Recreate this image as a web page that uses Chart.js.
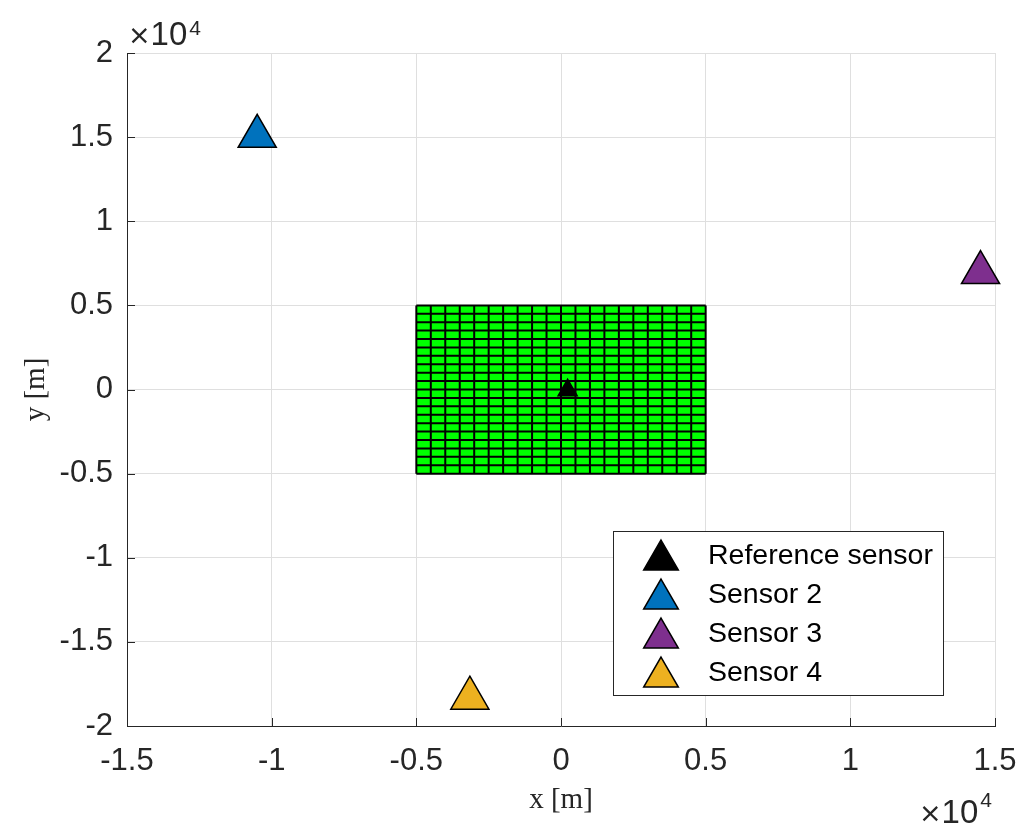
<!DOCTYPE html>
<html>
<head>
<meta charset="utf-8">
<script src="https://cdn.jsdelivr.net/npm/chart.js@4/dist/chart.umd.min.js"></script>
<style>
  html, body { margin: 0; padding: 0; background: #fff; }
  #wrap { width: 1019px; height: 827px; position: relative; }
</style>
</head>
<body>
<div id="wrap"><canvas id="chart"></canvas></div>
<script>
// dados dos sensores
const sensorNames = ['Reference sensor', 'Sensor 2', 'Sensor 3', 'Sensor 4'];
const sensorX = [230, -10500, 14500, -3150];
const sensorY = [-50, 15050, 6950, -18350];
const sensorColors = ['#000000', '#0072BD', '#7E2F8E', '#EDB120'];
const sensorSizes = [11, 22, 22, 22];

// bordas das células da grade verde
const cellEdges = [-5000, -4500, -4000, -3500, -3000, -2500, -2000, -1500, -1000, -500, 0,
                   500, 1000, 1500, 2000, 2500, 3000, 3500, 4000, 4500, 5000];

// ticks dos eixos
const xTicks = [-15000, -10000, -5000, 0, 5000, 10000, 15000];
const xTickLabels = ['-1.5', '-1', '-0.5', '0', '0.5', '1', '1.5'];
const yTicks = [-20000, -15000, -10000, -5000, 0, 5000, 10000, 15000, 20000];
const yTickLabels = ['-2', '-1.5', '-1', '-0.5', '0', '0.5', '1', '1.5', '2'];

const axisColor = '#262626';
const sansFamily = '"Liberation Sans", Arial, sans-serif';
const tickFont = { family: sansFamily, size: 31 };

// linhas da grade (segmentos separados por null)
const gridLinePoints = [];
cellEdges.forEach(e => {
    gridLinePoints.push({ x: e, y: cellEdges[0] });
    gridLinePoints.push({ x: e, y: cellEdges[cellEdges.length - 1] });
    gridLinePoints.push({ x: e, y: null });
});
cellEdges.forEach(e => {
    gridLinePoints.push({ x: cellEdges[0], y: e });
    gridLinePoints.push({ x: cellEdges[cellEdges.length - 1], y: e });
    gridLinePoints.push({ x: null, y: null });
});

const sensorDatasets = sensorNames.map((name, i) => ({
    label: name,
    data: [{ x: sensorX[i], y: sensorY[i] }],
    pointStyle: 'triangle',
    pointRadius: sensorSizes[i],
    pointBackgroundColor: sensorColors[i],
    pointBorderColor: '#000',
    pointBorderWidth: 1.5,
    showLine: false,
    clip: false,
    order: 0
}));

function drawTriangle(ctx, cx, cy, r, color) {
    ctx.fillStyle = color;
    ctx.strokeStyle = '#000';
    ctx.lineWidth = 1.5;
    ctx.beginPath();
    for (let k = 0; k < 3; k++) {
        const a = k * 2 * Math.PI / 3;
        const px = cx + Math.sin(a) * r, py = cy - Math.cos(a) * r;
        if (k === 0) ctx.moveTo(px, py); else ctx.lineTo(px, py);
    }
    ctx.closePath();
    ctx.fill();
    ctx.stroke();
}

// ×10^4 no estilo do MATLAB
function drawMultiplier(ctx, x, baseline, supBaseline) {
    ctx.font = '27px "DejaVu Sans", sans-serif';
    ctx.fillText('\u00d7', x, baseline - 1);
    let w = ctx.measureText('\u00d7').width;
    ctx.font = '33px ' + sansFamily;
    ctx.fillText('10', x + w, baseline);
    w += ctx.measureText('10').width;
    ctx.font = '21px ' + sansFamily;
    ctx.fillText('4', x + w + 2, supBaseline);
}

// plugin: legenda, ticks internos, rótulos e multiplicador
const extrasPlugin = {
    id: 'extras',
    afterDraw(chart) {
        const ctx = chart.ctx;
        const xs = chart.scales.x, ys = chart.scales.y;
        const area = chart.chartArea;
        ctx.save();

        // ticks para dentro
        ctx.strokeStyle = axisColor;
        ctx.lineWidth = 1;
        ctx.beginPath();
        xTicks.forEach(v => {
            const px = Math.round(xs.getPixelForValue(v)) + 0.5;
            ctx.moveTo(px, area.bottom);
            ctx.lineTo(px, area.bottom - 8);
        });
        yTicks.forEach(v => {
            const py = Math.round(ys.getPixelForValue(v)) + 0.5;
            ctx.moveTo(area.left, py);
            ctx.lineTo(area.left + 8, py);
        });
        ctx.stroke();

        // títulos dos eixos
        ctx.fillStyle = axisColor;
        ctx.font = '29px "Liberation Serif", "Times New Roman", serif';
        ctx.textAlign = 'center';
        ctx.textBaseline = 'middle';
        ctx.fillText('x [m]', (area.left + area.right) / 2, 800);
        ctx.save();
        ctx.translate(36, (area.top + area.bottom) / 2);
        ctx.rotate(-Math.PI / 2);
        ctx.fillText('y [m]', 0, 0);
        ctx.restore();

        // multiplicador ×10^4
        ctx.textAlign = 'left';
        ctx.textBaseline = 'alphabetic';
        drawMultiplier(ctx, 128, 45, 35);
        drawMultiplier(ctx, 919, 823, 807);

        // legenda
        const lx = 613, ly = 531, lw = 330, lh = 164;
        ctx.fillStyle = '#fff';
        ctx.fillRect(lx, ly, lw, lh);
        ctx.strokeStyle = axisColor;
        ctx.lineWidth = 1;
        ctx.strokeRect(lx + 0.5, ly + 0.5, lw, lh);
        sensorNames.forEach((name, i) => {
            const cy = 556 + i * 39;
            drawTriangle(ctx, 661, cy + 4, 20, sensorColors[i]);
            ctx.fillStyle = '#000';
            ctx.font = '28.5px ' + sansFamily;
            ctx.textAlign = 'left';
            ctx.textBaseline = 'middle';
            ctx.fillText(name, 708, cy);
        });
        ctx.restore();
    }
};

new Chart(document.getElementById('chart'), {
    type: 'scatter',
    data: {
        datasets: [
            ...sensorDatasets,
            {
                label: 'grid',
                data: gridLinePoints,
                showLine: true,
                spanGaps: false,
                borderColor: '#000',
                borderWidth: 2,
                pointRadius: 0,
                fill: false,
                order: 2
            },
            {
                label: 'area',
                data: [{ x: cellEdges[0], y: cellEdges[cellEdges.length - 1] },
                       { x: cellEdges[cellEdges.length - 1], y: cellEdges[cellEdges.length - 1] }],
                showLine: true,
                borderWidth: 0,
                pointRadius: 0,
                backgroundColor: '#00ff00',
                fill: { value: cellEdges[0] },
                order: 3
            }
        ]
    },
    options: {
        responsive: true,
        maintainAspectRatio: false,
        animation: false,
        events: [],
        layout: { padding: { top: 53, right: 24, left: 0, bottom: 0 } },
        plugins: {
            legend: { display: false },
            tooltip: { enabled: false }
        },
        scales: {
            x: {
                type: 'linear',
                min: xTicks[0],
                max: xTicks[xTicks.length - 1],
                afterBuildTicks: s => { s.ticks = xTicks.map(v => ({ value: v })); },
                afterFit: s => { s.height = 101; s.paddingLeft = 0; s.paddingRight = 0; },
                ticks: {
                    font: tickFont,
                    color: axisColor,
                    padding: 17,
                    maxRotation: 0,
                    callback: (v) => xTickLabels[xTicks.indexOf(v)]
                },
                grid: { color: '#dfdfdf', drawTicks: false },
                border: { color: axisColor, width: 1 }
            },
            y: {
                type: 'linear',
                min: yTicks[0],
                max: yTicks[yTicks.length - 1],
                afterBuildTicks: s => { s.ticks = yTicks.map(v => ({ value: v })); },
                afterFit: s => { s.width = 127; s.paddingTop = 0; s.paddingBottom = 0; },
                ticks: {
                    font: tickFont,
                    color: axisColor,
                    padding: 14,
                    callback: (v) => yTickLabels[yTicks.indexOf(v)]
                },
                grid: { color: '#dfdfdf', drawTicks: false },
                border: { color: axisColor, width: 1 }
            }
        }
    },
    plugins: [extrasPlugin]
});
</script>
</body>
</html>
